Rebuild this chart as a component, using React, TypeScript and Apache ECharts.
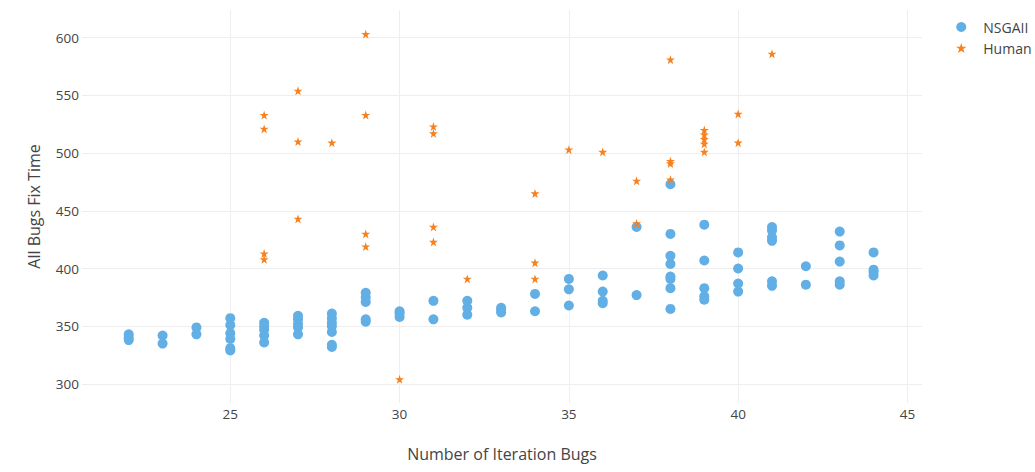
import React, { useEffect, useRef } from "react";
import * as echarts from "echarts";

// Fix time per number of iteration bugs, grouped by bug count.
const nsgaiGroups: [number, number[]][] = [
  [22, [338, 340, 343]],
  [23, [335, 342]],
  [24, [343, 349]],
  [25, [329, 331, 339, 344, 351, 357]],
  [26, [336, 342, 347, 350, 353]],
  [27, [343, 349, 352, 356, 359]],
  [28, [332, 334, 345, 350, 353, 357, 361]],
  [29, [354, 356, 371, 375, 379]],
  [30, [358, 361, 363]],
  [31, [356, 372]],
  [32, [360, 366, 372]],
  [33, [362, 364, 366]],
  [34, [363, 378]],
  [35, [368, 382, 391]],
  [36, [370, 372, 380, 394]],
  [37, [377, 436]],
  [38, [365, 383, 391, 393, 404, 411, 430, 473]],
  [39, [373, 376, 383, 407, 438]],
  [40, [380, 387, 400, 414]],
  [41, [385, 389, 424, 427, 433, 436]],
  [42, [386, 402]],
  [43, [386, 389, 406, 420, 432]],
  [44, [394, 397, 399, 414]],
];

const humanGroups: [number, number[]][] = [
  [26, [408, 413, 521, 533]],
  [27, [443, 510, 554]],
  [28, [509]],
  [29, [419, 430, 533, 603]],
  [30, [304]],
  [31, [423, 436, 517, 523]],
  [32, [391]],
  [34, [391, 405, 465]],
  [35, [503]],
  [36, [501]],
  [37, [439, 476]],
  [38, [477, 491, 493, 581]],
  [39, [501, 508, 512, 516, 520]],
  [40, [509, 534]],
  [41, [586]],
];

const xTicks = [25, 30, 35, 40, 45];
const yTicks = [300, 350, 400, 450, 500, 550, 600];

const flatten = (groups: [number, number[]][]) =>
  groups.flatMap(([bugs, times]) => times.map((t) => [bugs, t]));

const FONT = "'Open Sans', 'Noto Sans', sans-serif";
const TEXT = "#444";
const GRID = "#eeeeee";
const STAR =
  "path://M50,0 L61.8,35.4 L100,35.4 L69.1,57.3 L80.9,95.1 L50,72.6 L19.1,95.1 L30.9,57.3 L0,35.4 L38.2,35.4 Z";

export default function App() {
  const ref = useRef<HTMLDivElement>(null);

  useEffect(() => {
    if (!ref.current) return;
    const chart = echarts.init(ref.current, null, { renderer: "svg" });
    chart.setOption({
      animation: false,
      backgroundColor: "#ffffff",
      textStyle: { fontFamily: FONT, color: TEXT },
      grid: { left: 82, right: 113, top: 10, bottom: 69, outerBoundsMode: "none" },
      legend: {
        orient: "vertical",
        left: 951,
        top: 15,
        itemWidth: 18,
        itemHeight: 10,
        itemGap: 7,
        textStyle: { fontFamily: FONT, fontSize: 14, color: TEXT, padding: [0, 0, 0, 8] },
        data: [
          { name: "NSGAII", icon: "circle" },
          { name: "Human", icon: STAR },
        ],
      },
      xAxis: {
        type: "value",
        min: 20.62,
        max: 45.43,
        name: "Number of Iteration Bugs",
        nameLocation: "middle",
        nameGap: 43,
        nameTextStyle: { fontFamily: FONT, fontSize: 16, color: TEXT },
        axisLine: { show: false },
        axisTick: { show: false, customValues: xTicks },
        axisLabel: { customValues: xTicks, fontFamily: FONT, fontSize: 13.5, color: TEXT, margin: 4 },
        splitLine: { show: true, lineStyle: { color: GRID, width: 1 } },
      },
      yAxis: {
        type: "value",
        min: 283.5,
        max: 624,
        name: "All Bugs Fix Time",
        nameLocation: "middle",
        nameGap: 40,
        nameTextStyle: { fontFamily: FONT, fontSize: 16, color: TEXT },
        axisLine: { show: false },
        axisTick: { show: false, customValues: yTicks },
        axisLabel: { customValues: yTicks, fontFamily: FONT, fontSize: 13.5, color: TEXT, margin: 3 },
        splitLine: { show: true, lineStyle: { color: GRID, width: 1 } },
      },
      series: [
        {
          name: "NSGAII",
          type: "scatter",
          symbol: "circle",
          symbolSize: 10,
          itemStyle: { color: "#62afe6", opacity: 1 },
          data: flatten(nsgaiGroups),
        },
        {
          name: "Human",
          type: "scatter",
          symbol: STAR,
          symbolSize: 9,
          itemStyle: { color: "#f7811f", opacity: 1 },
          data: flatten(humanGroups),
        },
      ],
    });
    return () => chart.dispose();
  }, []);

  return (
    <div
      ref={ref}
      style={{ position: "fixed", left: 0, top: 0, width: 1035, height: 472 }}
    />
  );
}
